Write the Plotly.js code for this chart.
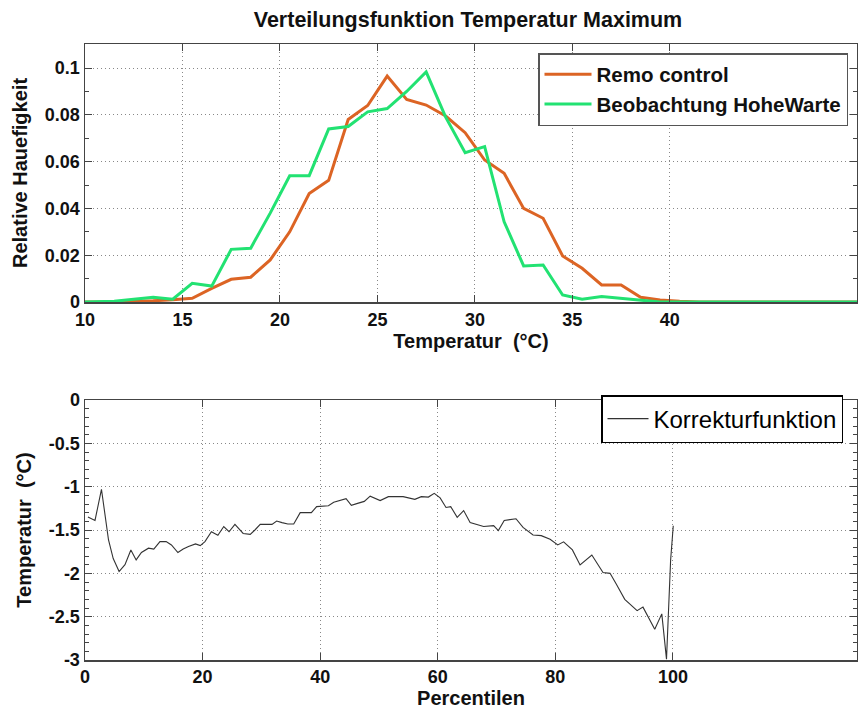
<!DOCTYPE html>
<html>
<head>
<meta charset="utf-8">
<script src="https://cdn.plot.ly/plotly-3.0.1.min.js"></script>
<style>
  html, body { margin: 0; padding: 0; background: #fff; }
  #chart { width: 858px; height: 713px; }
</style>
</head>
<body>
<div id="chart"></div>
<script>
// Temperature bins (°C) for the distribution of daily maximum temperature
const tempC = [10, 11.5, 12.5, 13.5, 14.5, 15.5, 16.5, 17.5, 18.5, 19.5, 20.5, 21.5, 22.5, 23.5,
  24.5, 25.5, 26.5, 27.5, 28.5, 29.5, 30.5, 31.5, 32.5, 33.5, 34.5, 35.5, 36.5, 37.5,
  38.5, 39.5, 40.5, 41.5, 50];

// Relative frequency, REMO control run
const remoControl = [0, 0, 0.0004, 0.0005, 0.001, 0.0016, 0.0058, 0.0097, 0.0106, 0.018, 0.030, 0.0464,
  0.052, 0.078, 0.084, 0.0966, 0.0866, 0.0842, 0.0795, 0.0724, 0.0607, 0.055, 0.040, 0.0358,
  0.0197, 0.0144, 0.0073, 0.0073, 0.002, 0.0009, 0.0003, 0, 0];

// Relative frequency, observations Hohe Warte
const hoheWarte = [0, 0.0003, 0.0012, 0.002, 0.0012, 0.008, 0.0068, 0.0225, 0.023, 0.038, 0.054, 0.054,
  0.074, 0.075, 0.0813, 0.0827, 0.090, 0.0984, 0.079, 0.0638, 0.0664, 0.0343, 0.0154, 0.0158,
  0.003, 0.0012, 0.0023, 0.0015, 0.0005, 0, 0, 0, 0];

// Correction function over percentiles
const percentile = [0.5, 1.7, 2.8, 4, 4.8, 5.8, 6.8, 7.8, 8.7, 9.6, 10.8, 11.7, 12.75, 13.8, 14.7, 15.8,
  16.7, 17.6, 18.8, 19.6, 20.4, 21.5, 22.6, 23.6, 24.5, 25.5, 26.9, 28.1, 28.9, 29.8, 31.8, 32.6,
  33.5, 34.5, 35.5, 36.6, 38.5, 39.4, 41.4, 42.3, 44.4, 45.3, 46.5, 47.5, 48.5, 50.2, 51.6, 54.1,
  56.1, 57.2, 58.4, 59.4, 60.4, 61.4, 62.2, 63.3, 64.4, 65.5, 67.8, 69.5, 70.3, 71.3, 73.3, 74.5,
  76.2, 77.6, 79.1, 80.4, 81.4, 82.9, 84.2, 86.2, 88.1, 89.3, 90.4, 91.8, 93.9, 94.9, 96.9, 98.1,
  98.9, 99.6, 100.05];
const korrektur = [-1.35, -1.39, -1.03, -1.615, -1.83, -1.98, -1.90, -1.73, -1.845, -1.76, -1.71, -1.72,
  -1.634, -1.634, -1.672, -1.76, -1.72, -1.69, -1.66, -1.68, -1.634, -1.52, -1.56, -1.46, -1.52,
  -1.435, -1.54, -1.55, -1.50, -1.435, -1.435, -1.396, -1.415, -1.43, -1.43, -1.30, -1.30, -1.23,
  -1.22, -1.18, -1.138, -1.215, -1.19, -1.17, -1.11, -1.16, -1.115, -1.115, -1.146, -1.115, -1.12,
  -1.077, -1.13, -1.24, -1.23, -1.353, -1.276, -1.415, -1.46, -1.45, -1.507, -1.39, -1.37, -1.47,
  -1.557, -1.565, -1.607, -1.672, -1.637, -1.73, -1.903, -1.788, -1.99, -2.0, -2.13, -2.30, -2.43,
  -2.39, -2.645, -2.468, -2.99, -1.85, -1.45];

const topTicks = [10, 15, 20, 25, 30, 35, 40];
const botTicks = [0, 20, 40, 60, 80, 100];

const W = 858, H = 713;
const px = v => v / W;
const py = v => 1 - v / H;

const sans = '"Liberation Sans", Arial, Helvetica, sans-serif';
const tickFont = { family: sans, size: 18, color: '#111', weight: 'bold' };
const labelFont = { family: sans, size: 20, color: '#111', weight: 'bold' };

const axisBase = {
  showline: true, linecolor: '#444', linewidth: 1.5, mirror: 'ticks',
  ticks: 'inside', ticklen: 7, tickcolor: '#444', tickwidth: 1,
  showgrid: true, gridcolor: '#888', griddash: '1px,3px', gridwidth: 1,
  zeroline: false, tickfont: tickFont
};

const traces = [
  { x: tempC, y: remoControl, type: 'scatter', mode: 'lines', name: 'Remo control',
    line: { color: '#dc6424', width: 3 }, xaxis: 'x', yaxis: 'y', legend: 'legend' },
  { x: tempC, y: hoheWarte, type: 'scatter', mode: 'lines', name: 'Beobachtung HoheWarte',
    line: { color: '#22e272', width: 3 }, xaxis: 'x', yaxis: 'y', legend: 'legend' },
  { x: percentile, y: korrektur, type: 'scatter', mode: 'lines', name: 'Korrekturfunktion',
    line: { color: '#333', width: 1.1 }, xaxis: 'x2', yaxis: 'y2', legend: 'legend2' }
];

const layout = {
  width: W, height: H,
  margin: { l: 0, r: 0, t: 0, b: 0 },
  paper_bgcolor: '#fff', plot_bgcolor: '#fff',
  showlegend: true,
  title: { text: 'Verteilungsfunktion Temperatur Maximum', x: px(468), xanchor: 'center',
    y: py(19), yanchor: 'middle', font: { family: sans, size: 21.5, color: '#111', weight: 'bold' } },
  xaxis: Object.assign({}, axisBase, {
    domain: [px(85), px(857)], anchor: 'y', range: [10, 49.6],
    tickmode: 'array', tickvals: topTicks, ticktext: topTicks.map(String),
    ticklabelstandoff: 1,
    title: { text: 'Temperatur  (°C)', font: labelFont, standoff: 5 }
  }),
  yaxis: Object.assign({}, axisBase, {
    domain: [py(302), py(44)], anchor: 'x', range: [0, 0.1103],
    tickmode: 'array', tickvals: [0, 0.02, 0.04, 0.06, 0.08, 0.1],
    ticktext: ['0', '0.02', '0.04', '0.06', '0.08', '0.1'],
    minor: { tickvals: [0.01, 0.03, 0.05, 0.07, 0.09], ticks: 'inside', ticklen: 4, tickcolor: '#444', showgrid: false },
    title: { text: 'Relative Hauefigkeit', font: labelFont, standoff: 12 }
  }),
  xaxis2: Object.assign({}, axisBase, {
    domain: [px(85), px(857)], anchor: 'y2', range: [0, 131.3],
    tickmode: 'array', tickvals: botTicks, ticktext: botTicks.map(String),
    ticklabelstandoff: 0,
    title: { text: 'Percentilen', font: labelFont, standoff: 0 }
  }),
  yaxis2: Object.assign({}, axisBase, {
    domain: [py(660), py(400)], anchor: 'x2', range: [-3, 0],
    tickmode: 'array', tickvals: [-3, -2.5, -2, -1.5, -1, -0.5, 0],
    ticktext: ['-3', '-2.5', '-2', '-1.5', '-1', '-0.5', '0'],
    minor: { dtick: 0.1, ticks: 'inside', ticklen: 4, tickcolor: '#444', showgrid: false },
    title: { text: 'Temperatur  (°C)', font: labelFont, standoff: 12 }
  }),
  legend: {
    x: px(538), xanchor: 'left', y: py(53), yanchor: 'top',
    bgcolor: '#fff', bordercolor: '#555', borderwidth: 1.5,
    font: { family: sans, size: 20.5, color: '#111', weight: 'bold' },
    tracegroupgap: 0, itemwidth: 47
  },
  legend2: {
    x: px(601), xanchor: 'left', y: py(395), yanchor: 'top',
    bgcolor: '#fff', bordercolor: '#000', borderwidth: 1.5,
    font: { family: sans, size: 24, color: '#000' },
    itemwidth: 41
  }
};

Plotly.newPlot('chart', traces, layout, { displayModeBar: false, staticPlot: true });
</script>
</body>
</html>
